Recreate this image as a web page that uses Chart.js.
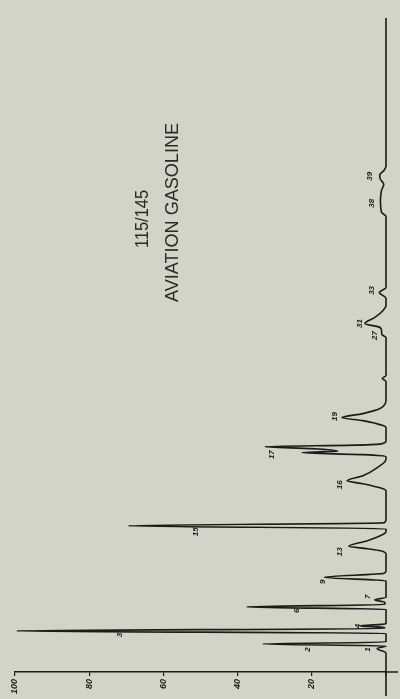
<!DOCTYPE html>
<html>
<head>
<meta charset="utf-8">
<title>115/145 Aviation Gasoline</title>
<script src="https://cdn.jsdelivr.net/npm/chart.js@4.4.1/dist/chart.umd.min.js"></script>
<style>
  html, body { margin: 0; padding: 0; background: #d3d4c8; }
  canvas { display: block; }
</style>
</head>
<body>
<canvas id="chromatogram" width="400" height="699"></canvas>
<script>
// Detector trace: elution time (arbitrary chart units) and response (% of full scale)
const traceTime = [
  -1.9, 2.4, 2.85, 3.1, 3.3, 3.5, 4.3,
  4.35, 4.6, 4.85, 4.95, 5.1, 5.3,
  6.75, 7.0, 7.25, 7.45, 7.7, 7.95,
  9.6, 9.95, 10.35, 10.6,
  12.3, 12.6, 12.8, 13.05, 13.6, 14.2, 14.5,
  14.8, 15.1, 15.4, 15.7,
  18.6, 18.8, 19.3, 19.6, 20.1, 21.1, 21.5, 21.8,
  22.0, 22.2, 22.4, 22.55, 22.8, 23.0, 23.15, 23.3, 23.6,
  24.9, 25.1, 25.6, 25.9, 26.3, 26.8, 27.3, 27.7,
  29.5, 29.8, 30.1,
  33.9, 34.2, 34.6, 34.9, 35.3, 35.9, 36.6, 37.1,
  37.8, 38.4, 38.9,
  46.0, 46.4, 47.6, 48.6, 49.2, 49.7, 50.1, 50.6, 51.0,
  65.8
];
const traceSignal = [
  0, 0, 2.4, 0, 33.2, 0, 0,
  0, 99.5, 0.4, 0.4, 7.0, 0,
  0, 37.5, 0.3, 0.3, 3.0, 0,
  0, 16.7, 0.5, 0,
  0, 1.5, 5.0, 10.0, 5.0, 1.0, 0,
  0, 69.5, 0.5, 0,
  0, 0.8, 6.2, 10.5, 6.2, 1.6, 0.3, 0,
  0, 6.0, 22.6, 13.0, 20.0, 32.6, 8.0, 1.0, 0,
  0, 0.8, 6.2, 11.9, 6.2, 1.6, 0.2, 0,
  0, 1.0, 0,
  0, 1.1, 1.2, 1.6, 5.7, 3.0, 0.8, 0,
  0, 1.8, 0,
  0, 1.2, 1.5, 1.2, 0.6, 1.5, 1.7, 0.5, 0,
  0
];

// Peak numbers and where each one is written (time, response)
const peakIds     = ['1', '2', '3', '4', '6', '7', '9', '13', '15', '16', '17', '19', '27', '31', '33', '38', '39'];
const labelTime   = [2.75, 2.75, 4.2, 5.1, 6.6, 8.0, 9.5, 12.5, 14.5, 19.2, 22.2, 26.0, 34.1, 35.3, 38.6, 47.3, 50.0];
const labelSignal = [4.9, 21.0, 71.7, 7.5, 24.0, 4.9, 17.0, 12.4, 51.2, 12.4, 30.7, 13.7, 3.0, 7.0, 3.8, 3.8, 4.3];

// Response axis
const responseMin = 0;
const responseMax = 100;
const responseStep = 20;
// Time window shown
const timeMin = 0.5;
const timeMax = 66.1;

const titleLines = ['115/145', 'AVIATION GASOLINE'];

const INK = '#1b1b1a';

// Rotated heading, reading bottom to top
const headingPlugin = {
  id: 'heading',
  afterDraw(chart) {
    const ctx = chart.ctx;
    const specs = [
      { text: titleLines[0], cx: 143.5, cy: 219, len: 58 },
      { text: titleLines[1], cx: 173.5, cy: 212.5, len: 179 }
    ];
    ctx.save();
    ctx.fillStyle = '#2a2a28';
    ctx.font = '18px "Liberation Sans Narrow", "Liberation Sans", Arial, sans-serif';
    ctx.textAlign = 'center';
    ctx.textBaseline = 'middle';
    specs.forEach(s => {
      const w = ctx.measureText(s.text).width;
      ctx.save();
      ctx.translate(s.cx, s.cy);
      ctx.rotate(-Math.PI / 2);
      ctx.scale(s.len / w, 1);
      ctx.fillText(s.text, 0, 0);
      ctx.restore();
    });
    ctx.restore();
  }
};

// Peak numbers beside the peaks, rotated like the rest of the lettering
const peakLabelPlugin = {
  id: 'peakLabels',
  afterDatasetsDraw(chart) {
    const ctx = chart.ctx;
    const xs = chart.scales.x, ys = chart.scales.y;
    ctx.save();
    ctx.fillStyle = INK;
    ctx.font = 'italic bold 8px "Liberation Sans", Arial, sans-serif';
    ctx.textAlign = 'center';
    ctx.textBaseline = 'middle';
    peakIds.forEach((id, i) => {
      const px = xs.getPixelForValue(labelSignal[i]);
      const py = ys.getPixelForValue(labelTime[i]);
      ctx.save();
      ctx.translate(px, py);
      ctx.rotate(-Math.PI / 2);
      ctx.fillText(id, 0, 0);
      ctx.restore();
    });
    // response axis line runs a little past the zero line
    const a = chart.chartArea;
    ctx.strokeStyle = INK;
    ctx.lineWidth = 1.5;
    ctx.beginPath();
    ctx.moveTo(a.right, a.bottom);
    ctx.lineTo(a.right + 12, a.bottom);
    ctx.stroke();
    ctx.restore();
  }
};

const points = traceTime.map((t, i) => ({ x: traceSignal[i], y: t }));

new Chart(document.getElementById('chromatogram'), {
  type: 'line',
  data: {
    datasets: [{
      data: points,
      borderColor: INK,
      borderWidth: 1.6,
      pointRadius: 0,
      fill: false,
      tension: 0,
      cubicInterpolationMode: 'monotone',
      clip: false
    }]
  },
  options: {
    indexAxis: 'y',
    responsive: false,
    animation: false,
    events: [],
    layout: { padding: { left: 15, right: 14, top: 15, bottom: 2 } },
    plugins: {
      legend: { display: false },
      tooltip: { enabled: false },
      title: { display: false }
    },
    scales: {
      x: {
        type: 'linear',
        position: 'bottom',
        reverse: true,
        min: responseMin,
        max: responseMax,
        grid: { drawOnChartArea: false, drawTicks: true, tickLength: 4, color: INK, lineWidth: 1.2 },
        border: { display: true, color: INK, width: 1.5 },
        ticks: {
          stepSize: responseStep,
          minRotation: 90,
          maxRotation: 90,
          padding: 3,
          color: INK,
          font: { family: '"Liberation Sans", Arial, sans-serif', size: 9, style: 'italic', weight: 'bold' },
          callback: v => (v === 0 ? '' : String(v))
        }
      },
      y: {
        type: 'linear',
        min: timeMin,
        max: timeMax,
        display: false
      }
    }
  },
  plugins: [headingPlugin, peakLabelPlugin]
});
</script>
</body>
</html>
